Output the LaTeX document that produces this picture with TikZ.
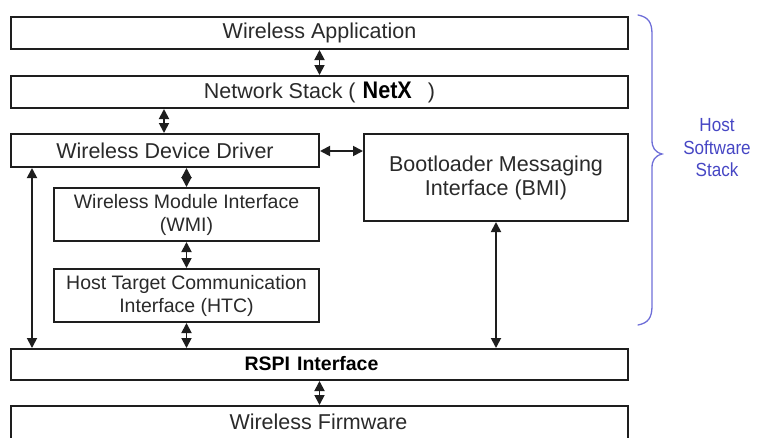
\documentclass[tikz,border=0pt]{standalone}
\usepackage{fontspec}
\setmainfont{Liberation Sans}
\usepackage{graphicx}
\usetikzlibrary{arrows.meta}
\definecolor{ink}{HTML}{1E1E1E}
\definecolor{txt}{HTML}{2A2A2A}
\definecolor{stackblue}{HTML}{6F6FD8}
\definecolor{stacktxt}{HTML}{4646C4}
\tikzset{
  layer/.style={draw=ink, line width=2pt, fill=white, anchor=north west,
    inner sep=0pt, text=txt, font=\fontsize{21.5}{25}\selectfont, align=center},
  sublayer/.style={layer, font=\fontsize{19.5}{23}\selectfont},
  link/.style={draw=ink, line width=1.8pt,
    {Triangle[length=10pt,width=10pt]}-{Triangle[length=10pt,width=10pt]}},
}
\begin{document}
\begin{tikzpicture}[x=1pt, y=-1pt]
  \useasboundingbox (0,0) rectangle (758,437);
  % stack layers
  \node[layer, minimum width=617pt, minimum height=32pt] (app) at (10,16) {Wireless Application};
  \node[layer, minimum width=617pt, minimum height=32pt] (net) at (10,75)
    {Network Stack (\hspace{7pt}{\color{black}\fontsize{24}{26}\selectfont\bfseries\scalebox{0.9}[1]{NetX}}\hspace{16pt})};
  \node[layer, minimum width=308pt, minimum height=33pt] (drv) at (10,133) {Wireless Device Driver};
  \node[layer, minimum width=264pt, minimum height=87pt] (bmi) at (363,133)
    {Bootloader Messaging\\[-1pt]Interface (BMI)};
  \node[sublayer, minimum width=265pt, minimum height=53pt] (wmi) at (53,187)
    {Wireless Module Interface\\(WMI)};
  \node[sublayer, minimum width=265pt, minimum height=53pt] (htc) at (53,268)
    {Host Target Communication\\Interface (HTC)};
  \node[layer, minimum width=617pt, minimum height=31pt] (rspi) at (10,348) {};
  \node[text=black, font=\fontsize{19.5}{22}\selectfont\bfseries] (rspitext) at (311.5,364)
    {RSPI\hspace{7pt}Interface};
  \node[layer, minimum width=617pt, minimum height=35pt] (fw) at (10,405) {};
  \node[text=txt, font=\fontsize{21.5}{25}\selectfont] (fwtext) at (318.5,422) {Wireless Firmware};

  % connectors
  \draw[link] (app.south) -- (net.north);
  \draw[link] (net.south -| 164,0) -- (drv.north -| 164,0);
  \draw[link] (drv.east |- 0,151) -- (bmi.west |- 0,151);
  \draw[link] (drv.south -| wmi.north) -- (wmi.north);
  \draw[link] (wmi.south) -- (htc.north);
  \draw[link] (htc.south) -- (htc.south |- rspi.north);
  \draw[link] (drv.south -| 32,0) -- (rspi.north -| 32,0);
  \draw[link] (bmi.south) -- (bmi.south |- rspi.north);
  \draw[link] (rspi.south -| fw.north) -- (fw.north);

  % brace and its label
  \coordinate (btop) at (638,15);
  \coordinate (bbot) at (638,325);
  \coordinate (btip) at (662,154);
  \draw[stackblue, line width=1.3pt, line cap=round]
    (btop) .. controls (648,17) and (652,22) .. (652,34)
    -- (652,140) .. controls (652,148) and (655,152) .. (btip)
    .. controls (655,156) and (652,160) .. (652,168)
    -- (652,306) .. controls (652,318) and (648,323) .. (bbot);
  \node[text=stacktxt, font=\fontsize{19}{22.5}\selectfont, align=center] (hss) at (717,148)
    {\scalebox{0.9}[1]{Host}\\\scalebox{0.9}[1]{Software}\\\scalebox{0.9}[1]{Stack}};
\end{tikzpicture}
\end{document}
